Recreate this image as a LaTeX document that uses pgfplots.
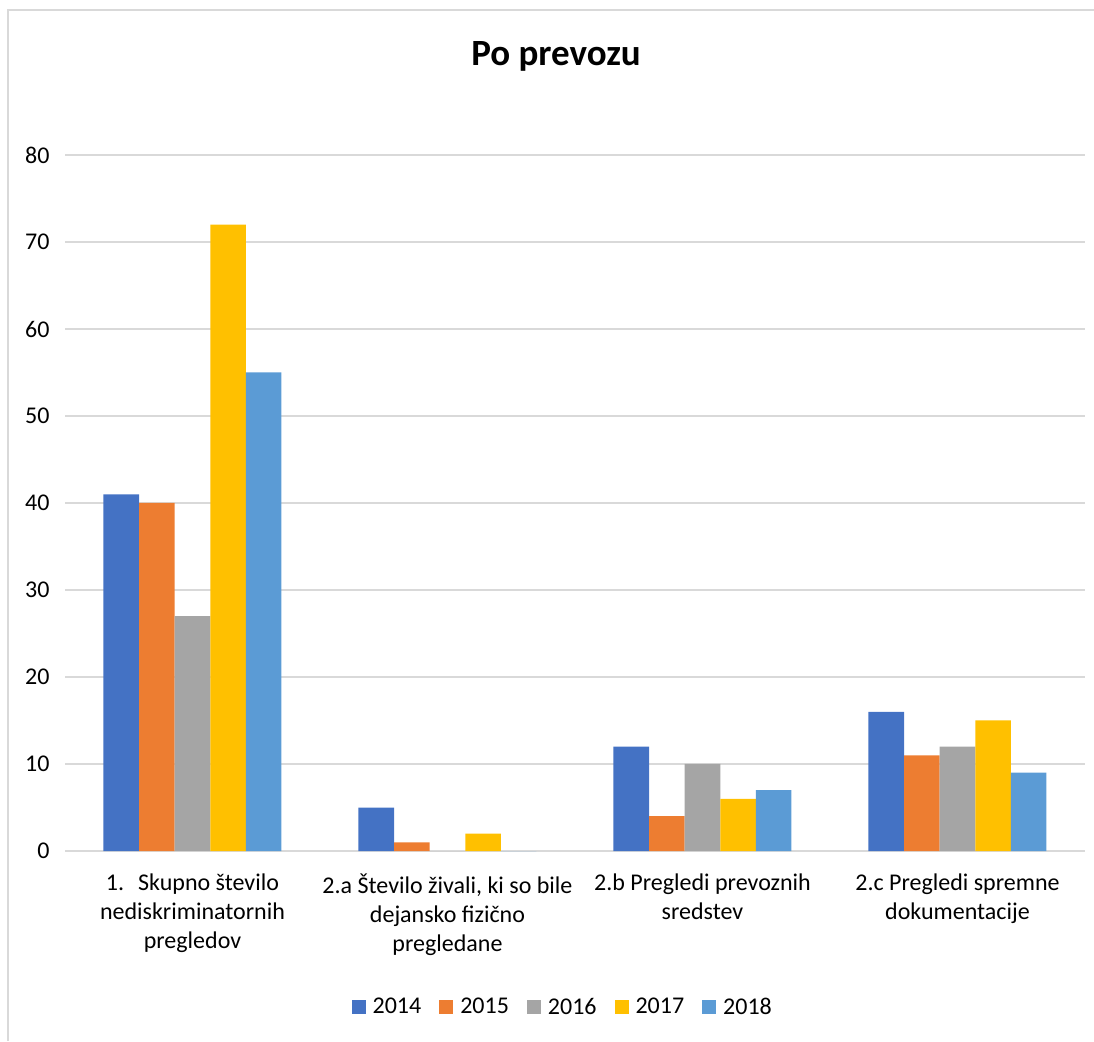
\documentclass[border=0pt]{standalone}
\usepackage{fontspec}
\setmainfont{Carlito}
\usepackage{pgfplots}
\pgfplotsset{compat=1.18}
\definecolor{cA}{HTML}{4472C4}
\definecolor{cB}{HTML}{ED7D31}
\definecolor{cC}{HTML}{A5A5A5}
\definecolor{cD}{HTML}{FFC000}
\definecolor{cE}{HTML}{5B9BD5}
\definecolor{gridc}{HTML}{D9D9D9}
\begin{document}
\begin{tikzpicture}[x=1pt,y=1pt]
\path[use as bounding box] (0,0) rectangle (1094,1041);
\draw[color=gridc, line width=2pt] (8,0) -- (8,1031) -- (1094,1031);
\node[font=\fontsize{37}{44}\selectfont\bfseries] at (556,985) {Po prevozu};
\begin{axis}[
  at={(65pt,190pt)}, anchor=south west,
  scale only axis, width=1020pt, height=696pt,
  ymin=0, ymax=80, xmin=-0.5, xmax=3.5,
  ybar=0pt, bar width=35.6pt,
  ytick={0,10,...,80}, xtick={0,1,2,3},
  xticklabels={{1.\hspace{14pt}Skupno število\\nediskriminatornih\\pregledov},
               {2.a Število živali, ki so bile\\dejansko fizično\\pregledane},
               {2.b Pregledi prevoznih\\sredstev},
               {2.c Pregledi spremne\\dokumentacije}},
  xticklabel style={align=center, font=\fontsize{24}{29}\selectfont, yshift=-19pt},
  yticklabel style={font=\fontsize{24}{29}\selectfont, xshift=-12pt},
  /pgf/number format/assume math mode=true,
  major tick length=0pt,
  axis x line*=bottom, axis y line*=left,
  y axis line style={draw=none},
  x axis line style={draw=gridc, line width=1.5pt},
  ymajorgrids, grid style={draw=gridc, line width=1.5pt},
  legend style={draw=none, at={(0.488,-0.224)}, anchor=center,
    font=\fontsize{24}{29}\selectfont,
    /tikz/every even column/.append style={column sep=16pt}},
  legend columns=5,
  legend image code/.code={\path (0pt,0pt) (19pt,0pt); \fill[#1, draw=none] (0pt,-7pt) rectangle (14pt,7pt);},
]
\addplot[fill=cA, draw=none] coordinates {(0,41) (1,5) (2,12) (3,16)};
\addplot[fill=cB, draw=none] coordinates {(0,40) (1,1) (2,4) (3,11)};
\addplot[fill=cC, draw=none] coordinates {(0,27) (1,0) (2,10) (3,12)};
\addplot[fill=cD, draw=none] coordinates {(0,72) (1,2) (2,6) (3,15)};
\addplot[fill=cE, draw=none] coordinates {(0,55) (1,0) (2,7) (3,9)};
\legend{2014,2015,2016,2017,2018}
\end{axis}
\end{tikzpicture}
\end{document}
